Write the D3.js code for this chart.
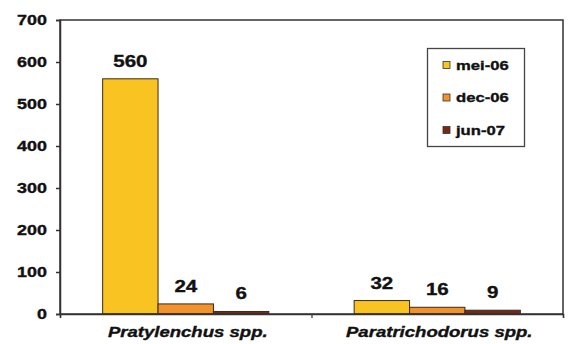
<!DOCTYPE html>
<html><head><meta charset="utf-8">
<script src="https://cdn.jsdelivr.net/npm/d3@7"></script>
<style>body{margin:0;background:#fff}svg{display:block;font-family:"Liberation Sans",Arial,sans-serif;font-weight:bold}</style>
</head><body><svg id="c" width="571" height="344"></svg>
<script>
const categories = ["Pratylenchus spp.", "Paratrichodorus spp."];
const seriesNames = ["mei-06", "dec-06", "jun-07"];
const mei06 = [560, 32];
const dec06 = [24, 16];
const jun07 = [6, 9];
const yTicks = [0, 100, 200, 300, 400, 500, 600, 700];
const colors = ["#f9c421", "#f3922b", "#7a2812"];

const seriesValues = [mei06, dec06, jun07];
const svg = d3.select("#c");
const M = {l: 60, r: 563, t: 20, b: 314};
const SX = 1.28;

const x0 = d3.scaleBand().domain(categories).range([M.l, M.r]).paddingInner(0).paddingOuter(0);
const x1 = d3.scaleBand().domain(seriesNames).range([0, x0.bandwidth()]).paddingOuter(0.77).paddingInner(0);
const y = d3.scaleLinear().domain([0, 700]).range([M.b, M.t]);

function stext(g, x, yy, txt, size, anchor, italic) {
  const t = g.append("g").attr("transform", `translate(${x},${yy}) scale(${SX},1)`)
    .append("text").attr("text-anchor", anchor).attr("font-size", size).attr("fill", "#111")
    .attr("stroke", "#111").attr("stroke-width", 0.35).text(txt);
  if (italic) t.attr("font-style", "italic");
  return t;
}

// bars
categories.forEach((c, ci) => {
  seriesNames.forEach((s, si) => {
    const v = seriesValues[si][ci];
    svg.append("rect")
      .attr("x", x0(c) + x1(s)).attr("y", y(v))
      .attr("width", x1.bandwidth()).attr("height", y(0) - y(v))
      .attr("fill", colors[si]).attr("stroke", "#3a2a1a").attr("stroke-width", 1);
    stext(svg, x0(c) + x1(s) + x1.bandwidth() / 2, y(v) - 12, String(v), 16, "middle");
  });
});

// frame
svg.append("rect").attr("x", M.l).attr("y", M.t).attr("width", M.r - M.l).attr("height", M.b - M.t)
  .attr("fill", "none").attr("stroke", "#333").attr("stroke-width", 1.5);

// y axis
const ya = svg.append("g").attr("transform", `translate(${M.l},0)`)
  .call(d3.axisLeft(y).tickValues(yTicks).tickSize(4).tickFormat(""));
ya.select(".domain").attr("stroke", "#333").attr("stroke-width", 1.5);
ya.selectAll(".tick line").attr("stroke", "#333").attr("stroke-width", 1.5);
yTicks.forEach(t => stext(svg, 47, y(t) + 5, String(t), 14, "end"));

// x axis ticks
const xa = svg.append("g").attr("transform", `translate(0,${M.b})`)
  .call(d3.axisBottom(d3.scaleLinear().domain([0, 2]).range([M.l, M.r])).tickValues([0, 1, 2]).tickSize(4).tickFormat(""));
xa.select(".domain").attr("stroke", "#333").attr("stroke-width", 1.5);
xa.selectAll(".tick line").attr("stroke", "#333").attr("stroke-width", 1.2);
categories.forEach(c => stext(svg, x0(c) + x0.bandwidth() / 2 + 2, 337, c, 14.5, "middle", true));

// legend
const lg = svg.append("g");
lg.append("rect").attr("x", 427.5).attr("y", 48.5).attr("width", 97).attr("height", 98)
  .attr("fill", "#fff").attr("stroke", "#444").attr("stroke-width", 1.3);
seriesNames.forEach((s, i) => {
  const cy = 65 + i * 32.5;
  lg.append("rect").attr("x", 443).attr("y", cy - 3.5).attr("width", 7).attr("height", 7)
    .attr("fill", colors[i]).attr("stroke", "#333").attr("stroke-width", 0.8);
  stext(lg, 456, cy + 4.5, s, 13, "start");
});
</script></body></html>
